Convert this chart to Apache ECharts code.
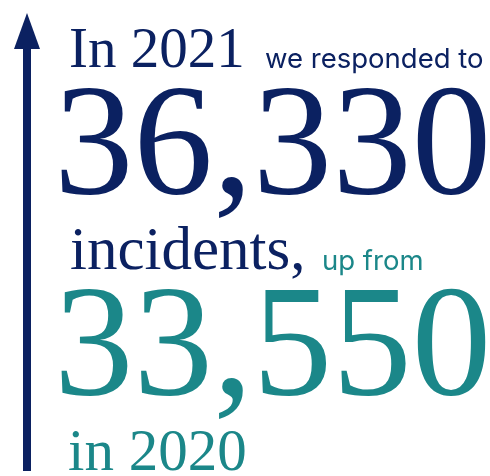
<!DOCTYPE html>
<html>
<head>
<meta charset="utf-8">
<script src="https://cdn.jsdelivr.net/npm/echarts@6/dist/echarts.min.js"></script>
<style>html,body{margin:0;padding:0;background:#fff}#c{width:490px;height:476px}</style>
</head>
<body>
<div id="c"></div>
<script>
var years = [2021, 2020];
var incidents = [36330, 33550];
var phrases = ['we responded to', 'incidents,', 'up from'];

var NAVY = '#0b2161';
var TEAL = '#1b8789';
var SERIF = '"Liberation Serif", "DejaVu Serif", serif';
var SANS = 'Inter, "Noto Sans", sans-serif';

function fmt(v) { return v.toLocaleString('en-US'); }

var chart = echarts.init(document.getElementById('c'), null, {renderer: 'canvas'});
chart.setOption({
  backgroundColor: '#fff',
  animation: false,
  graphic: [
    {type: 'rect', shape: {x: 23, y: 44, width: 8, height: 427}, style: {fill: NAVY}},
    {type: 'polygon', shape: {points: [[27, 13], [40, 49], [14, 49]]}, style: {fill: NAVY}},
    {type: 'text', x: 69, y: 81, style: {text: 'In ' + years[0], font: '57px ' + SERIF, fill: NAVY, verticalAlign: 'bottom'}},
    {type: 'text', x: 265, y: 74, style: {text: phrases[0], font: '27.5px ' + SANS, fill: NAVY, verticalAlign: 'bottom'}},
    {type: 'text', x: 54, y: 231, style: {text: fmt(incidents[0]), font: '159px ' + SERIF, fill: NAVY, verticalAlign: 'bottom'}},
    {type: 'text', x: 70, y: 283, style: {text: phrases[1], font: '61px ' + SERIF, fill: NAVY, verticalAlign: 'bottom'}},
    {type: 'text', x: 322, y: 276, style: {text: phrases[2], font: '27.5px ' + SANS, fill: TEAL, verticalAlign: 'bottom'}},
    {type: 'text', x: 54, y: 432, style: {text: fmt(incidents[1]), font: '159px ' + SERIF, fill: TEAL, verticalAlign: 'bottom'}},
    {type: 'text', x: 68, y: 484, style: {text: 'in ' + years[1], font: '59px ' + SERIF, fill: TEAL, verticalAlign: 'bottom'}}
  ]
});
</script>
</body>
</html>
